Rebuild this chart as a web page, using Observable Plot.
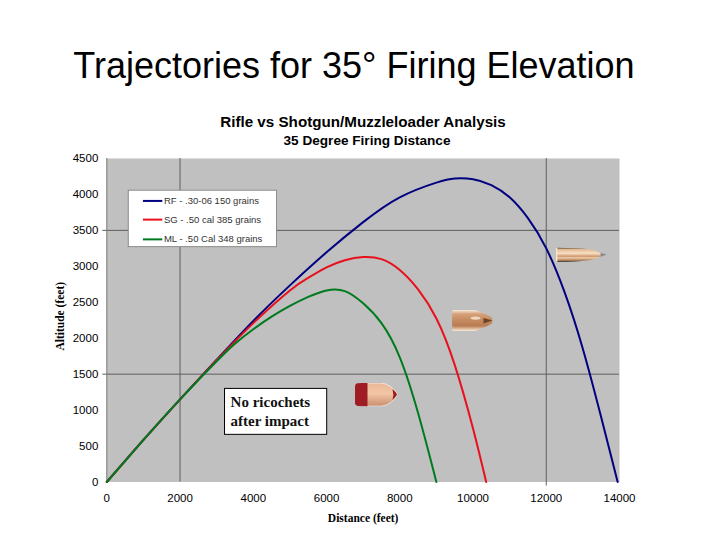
<!DOCTYPE html>
<html><head><meta charset="utf-8">
<script src="https://cdn.jsdelivr.net/npm/d3@7"></script>
<script src="https://cdn.jsdelivr.net/npm/@observablehq/plot@0.6"></script>
<style>
html,body{margin:0;padding:0;background:#fff;width:720px;height:540px;overflow:hidden}
#head{height:148px;position:relative;font-family:"Liberation Sans",Arial,sans-serif;color:#000;text-align:center}
#t{position:absolute;left:0;width:708px;top:46px;font-size:36px;line-height:40px}
#s1{position:absolute;left:0;width:726px;top:113px;font-size:15.2px;font-weight:bold;line-height:18px}
#s2{position:absolute;left:0;width:734px;top:133px;font-size:13.6px;font-weight:bold;line-height:16px}
svg{display:block}
</style></head><body>
<div id="head">
<div id="t">Trajectories for 35° Firing Elevation</div>
<div id="s1">Rifle vs Shotgun/Muzzleloader Analysis</div>
<div id="s2">35 Degree Firing Distance</div>
</div>
<div id="c"></div>
<script>
const rfX=[0,1000,2000,3000,4000,5000,6000,7000,8000,9000,9500,10000,10500,11000,11500,12000,12500,13000,13500,13950];
const rfY=[0,585,1150,1700,2240,2735,3195,3615,3960,4165,4222,4212,4130,3960,3670,3250,2640,1850,900,0];
const sgX=[0,1000,2000,3000,4000,5000,5500,6000,6500,7000,7500,8000,8500,9000,9500,10000,10360];
const sgY=[0,585,1150,1695,2210,2665,2840,2985,3085,3130,3100,2950,2680,2275,1630,745,0];
const mlX=[0,1000,2000,3000,3500,4000,4500,5000,5500,6000,6500,7000,7500,8000,8500,9000];
const mlY=[0,585,1150,1680,1925,2125,2300,2450,2575,2665,2655,2485,2210,1735,960,0];
const seriesNames=["RF - .30-06 150 grains","SG - .50 cal 385 grains","ML - .50 Cal 348 grains"];
const seriesColors=["#000080","#e8101c","#007a1e"];
const xTicks=[0,2000,4000,6000,8000,10000,12000,14000];
const yTicks=[0,500,1000,1500,2000,2500,3000,3500,4000,4500];
const xGrid=[2000,12000];
const yGrid=[1500,3500];
const legendRowY=[3910,3650,3375];
const noteLines=["No ricochets","after impact"];
const noteLineY=[1112,841];

const toUri=s=>"data:image/svg+xml;charset=utf-8,"+encodeURIComponent(s);
const rifleSvg=`<svg xmlns="http://www.w3.org/2000/svg" viewBox="0 0 50 15" width="200" height="60" preserveAspectRatio="none"><defs><linearGradient id="g" x1="0" y1="0" x2="0" y2="1"><stop offset="0" stop-color="#2a1d12"/><stop offset=".1" stop-color="#e2b68e"/><stop offset=".4" stop-color="#f8dfc4"/><stop offset=".62" stop-color="#cf9a70"/><stop offset=".72" stop-color="#f0cda9"/><stop offset=".92" stop-color="#a87a54"/><stop offset="1" stop-color="#1c120a"/></linearGradient></defs><path d="M1 0.5 Q20 0.5 32 2 Q42 4 46 7.5 Q42 11 32 13 Q20 14.5 1 14.5 Z" fill="url(#g)"/><path d="M44 5.5 L50 7.5 L44 9.5 Z" fill="#8a8a8a"/><rect x="0" y="0.5" width="1.6" height="14" fill="#f2e6d8"/></svg>`;
const shotSvg=`<svg xmlns="http://www.w3.org/2000/svg" viewBox="0 0 41 23" width="164" height="92" preserveAspectRatio="none"><defs><linearGradient id="g" x1="0" y1="0" x2="0" y2="1"><stop offset="0" stop-color="#f6e8d6"/><stop offset=".18" stop-color="#d6a27a"/><stop offset=".45" stop-color="#c68c62"/><stop offset=".75" stop-color="#b97c52"/><stop offset=".9" stop-color="#e2bf9f"/><stop offset="1" stop-color="#f8eee0"/></linearGradient></defs><path d="M1 1 Q0 11.5 1 22 L24 22 L36 17 L41 14 L41 9 L36 6 L24 1 Z" fill="url(#g)"/><path d="M32 9 L41 11.5 L32 14.5 Z" fill="#6b4526"/><ellipse cx="24" cy="9" rx="5" ry="1.6" fill="#f0d9bf"/></svg>`;
const mlSvg=`<svg xmlns="http://www.w3.org/2000/svg" viewBox="0 0 43 24" width="172" height="96" preserveAspectRatio="none"><defs><linearGradient id="g" x1="0" y1="0" x2="0" y2="1"><stop offset="0" stop-color="#e9b796"/><stop offset=".45" stop-color="#f3c6a6"/><stop offset="1" stop-color="#c98f70"/></linearGradient></defs><path d="M9 .5 L27 .5 Q37 1.5 43 12 Q37 22.5 27 23.5 L9 23.5 Z" fill="url(#g)" stroke="#fff" stroke-width=".6"/><path d="M0.5 3 Q1 .8 3 .6 L13 .2 L13 23.8 L3 23.4 Q1 23 .5 21 Z" fill="#a01c24"/><path d="M38 6.5 Q41 9 42.6 12 Q41 15 38 17.5 Q39.5 12 38 6.5Z" fill="#a01c24"/></svg>`;

const bulletSrc=[rifleSvg,shotSvg,mlSvg].map(toUri);
const bulletX=[12955,9972,7351];
const bulletY=[3162,2245,1216];
const bulletW=[51,41,43];
const bulletH=[15,23,24];

const trajectories=[[rfX,rfY],[sgX,sgY],[mlX,mlY]].map(([xs,ys],i)=>xs.map((x,j)=>({x,y:ys[j],s:seriesNames[i]})));
const serif='"Liberation Serif","Times New Roman",serif';
const sans='"Liberation Sans",Arial,sans-serif';
const grid="#5f5f5f";

const chart=Plot.plot({
  width:720,height:392,
  marginTop:10,marginBottom:58.5,marginLeft:106.3,marginRight:101,
  style:{background:"#fff",fontFamily:sans,color:"#000"},
  x:{domain:[0,14000]},
  y:{domain:[0,4500]},
  color:{domain:seriesNames,range:seriesColors},
  marks:[
    Plot.frame({fill:"#c0c0c0",stroke:null}),
    Plot.ruleX(xGrid,{stroke:grid,strokeWidth:1}),
    Plot.ruleY(yGrid,{stroke:grid,strokeWidth:1}),
    Plot.ruleX([0],{stroke:"#777",strokeWidth:1}),
    Plot.axisX({ticks:[12000],tickSize:4,stroke:grid,tickFormat:()=>"",label:null}),
    Plot.axisY({ticks:yGrid,tickSize:4,stroke:grid,tickFormat:()=>"",label:null}),
    Plot.axisX({ticks:xTicks,tickSize:0,tickPadding:12,fontSize:11.5,tickFormat:d=>String(d),label:null}),
    Plot.axisY({ticks:yTicks,tickSize:0,tickPadding:8.5,fontSize:11.5,tickFormat:d=>String(d),label:null}),
    ...trajectories.map(t=>Plot.line(t,{x:"x",y:"y",stroke:"s",strokeWidth:2,curve:"natural"})),
    Plot.rect([0],{x1:600,x2:4648,y1:3267,y2:4052,fill:"#fff",stroke:"#8c8c8c",strokeWidth:1}),
    ...seriesNames.map((n,i)=>Plot.ruleY([legendRowY[i]],{x1:1000,x2:1530,stroke:seriesColors[i],strokeWidth:2})),
    Plot.text(seriesNames,{x:1560,y:(d,i)=>legendRowY[i],text:d=>d,textAnchor:"start",fontSize:9.5,fill:"#333"}),
    Plot.rect([0],{x1:3228,x2:6018,y1:656,y2:1295,fill:"#fff",stroke:"#000",strokeWidth:1}),
    Plot.text(noteLines,{x:3380,y:(d,i)=>noteLineY[i],text:d=>d,textAnchor:"start",fontFamily:serif,fontSize:15,fontWeight:"bold",fill:"#111",letterSpacing:0.7}),
    Plot.image(bulletSrc,{x:(d,i)=>bulletX[i],y:(d,i)=>bulletY[i],src:d=>d,width:(d,i)=>bulletW[i],height:(d,i)=>bulletH[i],preserveAspectRatio:"none"}),
    Plot.text(["Distance (feet)"],{frameAnchor:"bottom",dy:40,fontFamily:serif,fontWeight:"bold",fontSize:11.5,fill:"#000"}),
    Plot.text(["Altitude (feet)"],{frameAnchor:"left",textAnchor:"middle",dx:-46,dy:-4,rotate:-90,fontFamily:serif,fontWeight:"bold",fontSize:11.5,fill:"#000"})
  ]
});
document.getElementById("c").appendChild(chart);
</script>
</body></html>
